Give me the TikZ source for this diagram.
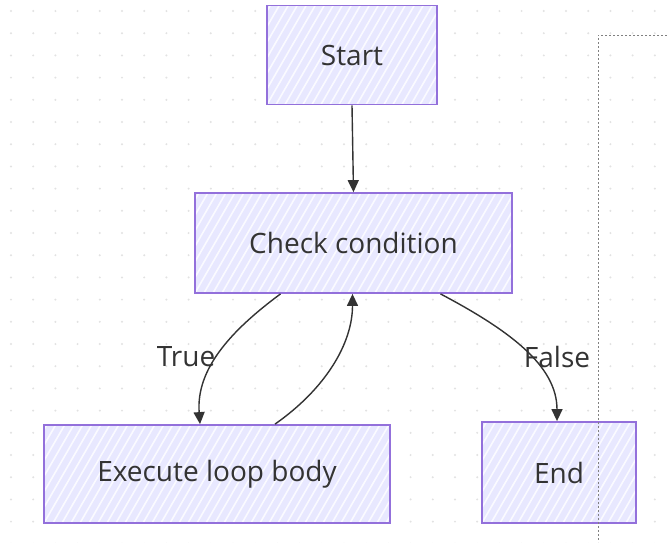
\documentclass[tikz,border=0pt]{standalone}
\usepackage{fontspec}
\setmainfont{Open Sans}
\usetikzlibrary{arrows.meta,calc}
\definecolor{boxfill}{HTML}{E8E8FF}
\definecolor{boxline}{HTML}{9370DB}
\definecolor{txt}{HTML}{333333}
\definecolor{edgecol}{HTML}{333333}
\definecolor{griddot}{HTML}{E2E2E2}
\tikzset{
  flowbox/.style={draw=boxline, line width=1.8pt, fill=boxfill, text=txt,
    font=\fontsize{28}{32}\selectfont, inner sep=0pt,
    path picture={
      \foreach \k in {-14,...,44}{
        \draw[white, line width=1.6pt, opacity=0.8]
          ($(path picture bounding box.south west)+(\k*9pt,0)$) -- ++(100pt,173pt);
      }
    }},
  flowedge/.style={draw=edgecol, line width=1.4pt, -{Triangle[length=12pt,width=11pt]}},
  edgelabel/.style={text=txt, font=\fontsize{28}{32}\selectfont, inner sep=0pt},
  gridline/.style={draw=gray, line width=0.6pt, dash pattern=on 2pt off 2pt},
}
\begin{document}
\begin{tikzpicture}[x=1pt,y=-1pt]
\useasboundingbox (0,0) rectangle (667,542);
\fill[white] (0,0) rectangle (667,542);
% dot grid
\foreach \i in {0,...,29}{
  \foreach \j in {0,...,24}{
    \fill[griddot] (11+22.2*\i, 11+22.2*\j) circle (1.1pt);
  }
}
% nodes
\node[flowbox, minimum width=170pt, minimum height=99pt] (start) at (352,55) {Start};
\node[flowbox, minimum width=317pt, minimum height=100pt] (check) at (353.5,243) {Check condition};
\node[flowbox, minimum width=346pt, minimum height=98pt] (exec) at (217,474) {Execute loop body};
\node[flowbox, minimum width=154pt, minimum height=101pt] (endn) at (559,472.5) {End};
% edges
\draw[flowedge] (start.south) -- (check.north);
\draw[flowedge] ($(check.south)+(-73,0)$) .. controls +(-50,37) and +(-4,-55) .. ($(exec.north)+(-17,0)$);
\draw[flowedge] ($(exec.north)+(58,0)$) .. controls +(50,-35) and +(0,50) .. ($(check.south)+(-1,0)$);
\draw[flowedge] ($(check.south)+(87,0)$) .. controls +(70,37) and +(0,-55) .. ($(endn.north)+(-2,0)$);
% labels
\node[edgelabel] (ltrue) at (186,357) {True};
\node[edgelabel] (lfalse) at (557,357) {False};
% dashed frame line
\coordinate (fa) at (667,35);
\coordinate (fb) at (598,35);
\coordinate (fc) at (598,542);
\draw[gridline] (fa) -- (fb) -- (fc);
\end{tikzpicture}
\end{document}
